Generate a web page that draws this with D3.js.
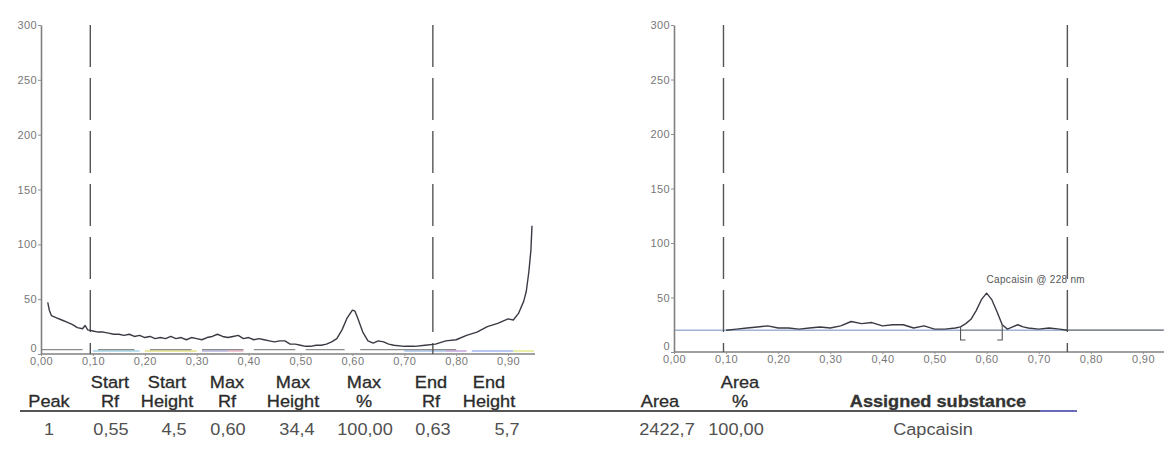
<!DOCTYPE html>
<html>
<head>
<meta charset="utf-8">
<script src="https://cdn.jsdelivr.net/npm/d3@7"></script>
<style>
  html, body { margin: 0; padding: 0; background: #fff; }
  svg { display: block; }
  text { font-family: "Liberation Sans", Arial, sans-serif; }
</style>
</head>
<body>
<svg id="chart" width="1164" height="449"></svg>
<script>
// ---------------- DATA ----------------
const rfTicks = [0, 0.1, 0.2, 0.3, 0.4, 0.5, 0.6, 0.7, 0.8, 0.9];
const yTicks = [0, 50, 100, 150, 200, 250, 300];

// Left densitogram (Rf, AU)
const leftRf = [0.013,0.016,0.02,0.03,0.04,0.05,0.06,0.07,0.08,0.085,0.09,0.10,0.11,0.12,0.13,0.14,0.15,0.16,0.17,0.18,0.19,0.20,0.21,0.22,0.23,0.24,0.25,0.26,0.27,0.28,0.29,0.30,0.31,0.32,0.33,0.34,0.35,0.36,0.37,0.38,0.39,0.40,0.41,0.42,0.43,0.44,0.45,0.46,0.47,0.48,0.49,0.50,0.51,0.52,0.53,0.54,0.55,0.56,0.57,0.58,0.59,0.60,0.605,0.61,0.62,0.63,0.64,0.65,0.66,0.67,0.68,0.70,0.72,0.74,0.76,0.78,0.80,0.82,0.84,0.86,0.88,0.90,0.91,0.92,0.93,0.935,0.94,0.944,0.946];
const leftVal = [47,40,35,33,31,29,27,24,23,26,22,21,20,20,19,18,18,17,18,16,17,15,16,14,15,14,16,14,15,13,15,14,13,15,16,18,16,15,16,17,14,15,13,14,13,12,11,12,12,9,9,8,7,7,8,8,9,11,14,22,33,40,39,33,20,12,10,12,11,9,8,7,7,8,9,12,13,17,20,25,28,32,31,37,48,57,75,95,117];

// Right densitogram (Rf, AU)
const rightRf = [0.10,0.12,0.14,0.16,0.18,0.20,0.22,0.24,0.26,0.28,0.30,0.32,0.34,0.36,0.38,0.40,0.42,0.44,0.46,0.48,0.50,0.52,0.54,0.55,0.56,0.57,0.58,0.59,0.60,0.61,0.62,0.63,0.64,0.65,0.66,0.67,0.68,0.70,0.72,0.74,0.755];
const rightVal = [20,21,22,23,24,22,22,21,22,23,22,24,28,26,27,24,25,25,22,24,21,21,22,23,26,30,38,48,54,48,37,25,21,23,25,23,22,21,22,21,20];

const dashRf = [0.095, 0.755];          // integration window
const rightBaseline = 20;               // right-chart baseline level
const laneMarkLevel = 4;                 // left-chart lane marks level
const laneMarks = [[0.00,0.08],[0.11,0.18],[0.21,0.29],[0.31,0.39],[0.41,0.49],[0.51,0.585],[0.615,0.80]];
const tintBands = [[0.10,0.19],[0.20,0.30],[0.31,0.36],[0.36,0.39],[0.70,0.78],[0.78,0.82],[0.83,0.91],[0.91,0.95]];
const peakLabel = "Capcaisin @ 228 nm";
const peakStartRf = 0.55, peakMaxRf = 0.60, peakEndRf = 0.63;

// Table
const headTop = ["", "Start", "Start", "Max", "Max", "Max", "End", "End", "", "Area", ""];
const headBottom = ["Peak", "Rf", "Height", "Rf", "Height", "%", "Rf", "Height", "Area", "%", "Assigned substance"];
const rowValues = ["1", "0,55", "4,5", "0,60", "34,4", "100,00", "0,63", "5,7", "2422,7", "100,00", "Capcaisin"];

// ---------------- DRAW ----------------
const svg = d3.select("#chart");
const fmt = d => d3.format(".2f")(d).replace(".", ",");

function panel(opt) {
  const g = svg.append("g");
  const x = d3.scaleLinear().domain([0, opt.rfMax]).range([opt.x0, opt.x0 + opt.rfMax * opt.pxPerRf]);
  const y = d3.scaleLinear().domain([0, 300]).range([opt.y0, opt.yTop]);

  if (opt.tints) {
    const tintCols = ["#a8d8ec", "#e6e48a", "#b8b8e0", "#f0b8c8", "#a8c8ec", "#c8a8e0", "#a8b8f0", "#e4ec90"];
    opt.tints.forEach((b, i) => {
      g.append("line").attr("x1", x(b[0])).attr("x2", x(b[1]))
        .attr("y1", opt.y0 - 3).attr("y2", opt.y0 - 3)
        .attr("stroke", tintCols[i % tintCols.length]).attr("stroke-width", 2).attr("opacity", 0.8);
    });
  }
  if (opt.lanes) {
    opt.lanes.forEach(b => {
      g.append("line").attr("x1", x(b[0])).attr("x2", x(b[1]))
        .attr("y1", y(laneMarkLevel)).attr("y2", y(laneMarkLevel))
        .attr("stroke", "#8a8a8a").attr("stroke-width", 1.3);
    });
  }
  if (opt.baseline != null) {
    g.append("line").attr("x1", x(0)).attr("x2", x(opt.rfMax))
      .attr("y1", y(opt.baseline)).attr("y2", y(opt.baseline))
      .attr("stroke", "#9fb4d6").attr("stroke-width", 1.6);
    g.append("line").attr("x1", x(dashRf[1])).attr("x2", x(opt.rfMax))
      .attr("y1", y(opt.baseline)).attr("y2", y(opt.baseline))
      .attr("stroke", "#7a7a7a").attr("stroke-width", 1.2);
    g.append("line").attr("x1", x(peakStartRf)).attr("x2", x(peakEndRf))
      .attr("y1", y(opt.baseline)).attr("y2", y(opt.baseline))
      .attr("stroke", "#888").attr("stroke-width", 1);
  }

  // axes
  const yAxis = d3.axisLeft(y).tickValues(yTicks).tickSize(3).tickSizeOuter(0).tickPadding(1);
  const xAxis = d3.axisBottom(x).tickValues(rfTicks).tickFormat(fmt).tickSize(2).tickSizeOuter(0).tickPadding(1);
  const ga = g.append("g").attr("transform", `translate(${opt.x0},0)`).call(yAxis);
  const gb = g.append("g").attr("transform", `translate(0,${opt.y0})`).call(xAxis);
  [ga, gb].forEach(a => {
    a.select(".domain").attr("stroke", "#808080").attr("stroke-width", 1.6);
    a.selectAll(".tick line").attr("stroke", "#909090");
    a.selectAll(".tick text").attr("fill", "#777").style("font-size", "11px").style("letter-spacing", "0.4px");
  });
  // lift the "0" label a little so it sits above the first Rf label
  ga.selectAll(".tick").filter(d => d === 0).select("text").attr("dy", "-0.25em");
  gb.select(".domain").attr("d", `M${opt.x0},0H${opt.xEnd}`);

  // dashed integration lines
  dashRf.forEach(r => {
    g.append("line").attr("x1", x(r)).attr("x2", x(r))
      .attr("y1", opt.yTop).attr("y2", opt.y0)
      .attr("stroke", "#555").attr("stroke-width", 1.4)
      .attr("stroke-dasharray", "42,11");
  });

  // curve
  const line = d3.line().x(d => x(d[0])).y(d => y(d[1])).curve(d3.curveLinear);
  const pts = opt.rf.map((r, i) => [r, opt.val[i]]);
  g.append("path").datum(pts).attr("d", line)
    .attr("fill", "none").attr("stroke", "#3a3a44").attr("stroke-width", 1.4)
    .attr("stroke-linejoin", "round");
  return {g, x, y};
}

const left = panel({ x0: 41, y0: 354, yTop: 25, pxPerRf: 519, rfMax: 0.95, xEnd: 535,
  rf: leftRf, val: leftVal, lanes: laneMarks, tints: tintBands, baseline: null });

const right = panel({ x0: 674, y0: 352, yTop: 25, pxPerRf: 521, rfMax: 0.94, xEnd: 1164,
  rf: rightRf, val: rightVal, lanes: null, tints: null, baseline: rightBaseline });

// peak brackets and label on right chart
{
  const {g, x, y} = right;
  const footY = y(11);
  const sVal = rightVal[rightRf.indexOf(peakStartRf)];
  const eVal = rightVal[rightRf.indexOf(peakEndRf)];
  g.append("path").attr("d", `M${x(peakStartRf)},${y(sVal)}V${footY}h5`)
    .attr("fill", "none").attr("stroke", "#555").attr("stroke-width", 1.1);
  g.append("path").attr("d", `M${x(peakEndRf)},${y(eVal)}V${footY}h-5`)
    .attr("fill", "none").attr("stroke", "#555").attr("stroke-width", 1.1);
  g.append("text").attr("x", x(peakMaxRf)).attr("y", y(63))
    .attr("fill", "#555").style("font-size", "10px").style("letter-spacing", "0.3px")
    .text(peakLabel);
}

// ---------------- TABLE ----------------
const colX = [49, 110, 167, 227, 293, 364, 431, 489, 660, 740, 938];
const rowX = [49, 111, 174, 228, 297, 365, 433, 507, 667, 736, 933];
const tg = svg.append("g");
function tText(xp, yp, str, o = {}) {
  const t = tg.append("text")
    .attr("transform", `translate(${xp},${yp}) scale(1.1,1)`)
    .attr("text-anchor", "middle")
    .attr("fill", o.fill || "#2b2b2b")
    .style("font-size", (o.size || 16.5) + "px")
    .style("font-weight", o.bold ? "bold" : "normal");
  if (o.stroke) t.attr("stroke", o.fill || "#2b2b2b").attr("stroke-width", 0.3);
  t.text(str);
  return t;
}
headTop.forEach((h, i) => { if (h) tText(colX[i], 388, h, {stroke: true}); });
headBottom.forEach((h, i) => tText(colX[i], 407, h, {stroke: true, bold: i === headBottom.length - 1, fill: i === headBottom.length - 1 ? "#333" : "#2b2b2b"}));
rowValues.forEach((v, i) => tText(rowX[i], 435, v, {fill: "#505050"}));

tg.append("line").attr("x1", 20).attr("x2", 1077).attr("y1", 411).attr("y2", 411)
  .attr("stroke", "#555").attr("stroke-width", 2);
tg.append("line").attr("x1", 1040).attr("x2", 1077).attr("y1", 411).attr("y2", 411)
  .attr("stroke", "#6a6ab8").attr("stroke-width", 2);
</script>
</body>
</html>
